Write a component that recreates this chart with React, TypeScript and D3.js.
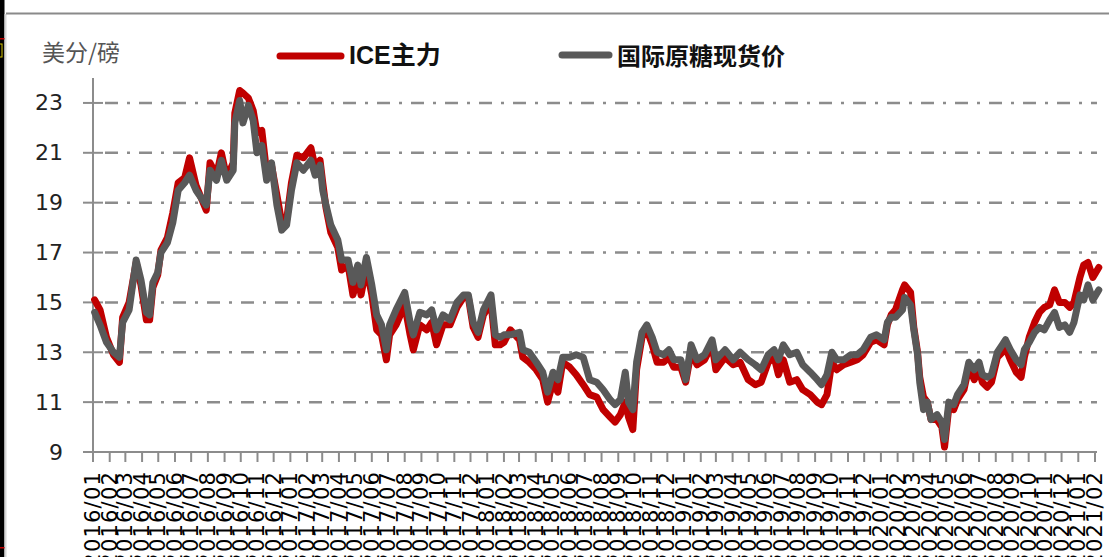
import React from "react";
import * as d3 from "d3";

const dates: string[] = [
  "2016-01-04","2016-01-14","2016-01-26","2016-02-08","2016-02-19","2016-02-25","2016-03-08","2016-03-21","2016-03-30","2016-04-09","2016-04-15","2016-04-21","2016-04-30","2016-05-06","2016-05-18","2016-05-28","2016-06-07","2016-06-19","2016-06-28","2016-07-10","2016-07-29","2016-08-05","2016-08-17","2016-08-26","2016-09-05","2016-09-17","2016-09-20","2016-09-29","2016-10-05","2016-10-15","2016-10-24","2016-10-31","2016-11-09","2016-11-18","2016-11-27","2016-12-07","2016-12-16","2016-12-25",
  "2017-01-03","2017-01-13","2017-01-25","2017-02-08","2017-02-16","2017-02-25","2017-03-02","2017-03-08","2017-03-17","2017-03-30","2017-04-06","2017-04-18","2017-04-27","2017-05-06","2017-05-12","2017-05-22","2017-06-01","2017-06-10","2017-06-19","2017-06-28","2017-07-04","2017-07-16","2017-08-01","2017-08-11","2017-08-17","2017-08-29","2017-09-11","2017-09-20","2017-09-29","2017-10-11","2017-10-24","2017-11-06","2017-11-18","2017-11-27","2017-12-06","2017-12-15","2017-12-25",
  "2018-01-08","2018-01-16","2018-01-25","2018-02-01","2018-02-13","2018-03-02","2018-03-08","2018-03-20","2018-04-02","2018-04-14","2018-04-23","2018-05-03","2018-05-12","2018-05-21","2018-06-03","2018-06-15","2018-06-28","2018-07-10","2018-07-23","2018-08-04","2018-08-17","2018-08-26","2018-09-05","2018-09-14","2018-09-20","2018-09-28","2018-10-05","2018-10-15","2018-10-24","2018-11-03","2018-11-12","2018-11-24","2018-12-04","2018-12-13","2018-12-26",
  "2019-01-04","2019-01-14","2019-01-25","2019-02-08","2019-02-22","2019-03-01","2019-03-18","2019-04-02","2019-04-15","2019-04-30","2019-05-13","2019-05-24","2019-06-06","2019-06-17","2019-06-25","2019-07-04","2019-07-16","2019-07-29","2019-08-09","2019-08-23","2019-09-05","2019-09-13","2019-09-23","2019-10-02","2019-10-11","2019-10-24","2019-11-06","2019-11-18","2019-11-29","2019-12-13","2019-12-24",
  "2020-01-07","2020-01-13","2020-01-20","2020-01-28","2020-02-10","2020-02-14","2020-02-25","2020-03-02","2020-03-09","2020-03-13","2020-03-20","2020-03-27","2020-04-03","2020-04-14","2020-04-23","2020-04-28","2020-05-06","2020-05-15","2020-05-22","2020-06-03","2020-06-12","2020-06-22","2020-07-01","2020-07-07","2020-07-16","2020-07-24","2020-08-04","2020-08-13","2020-08-19","2020-08-28","2020-09-08","2020-09-17","2020-09-23","2020-10-02","2020-10-12","2020-10-21","2020-10-30","2020-11-09","2020-11-18","2020-11-27","2020-12-07","2020-12-16","2020-12-24",
  "2021-01-04","2021-01-11","2021-01-19","2021-01-28","2021-02-08",
];

// ICE主力
const iceValues: number[] = [
  15.1,14.7,13.6,12.9,12.6,14.4,15.0,16.6,15.7,14.3,14.3,15.6,16.1,17.1,17.6,18.6,19.8,20.0,20.8,19.7,18.7,20.6,20.1,21.0,20.0,20.6,22.6,23.5,23.4,23.2,22.7,21.8,21.9,20.2,20.5,19.3,18.2,18.3,
  19.8,20.9,20.8,21.2,20.4,20.7,19.8,18.8,17.8,17.2,16.3,16.5,15.3,16.0,15.3,16.4,15.3,13.9,13.7,12.7,13.7,14.1,14.9,13.7,13.1,14.1,13.9,14.2,13.3,14.1,14.1,14.8,15.2,15.2,14.0,13.6,14.5,
  15.0,13.3,13.3,13.4,13.9,13.5,12.8,12.6,12.3,11.9,11.0,11.8,11.4,12.6,12.4,12.1,11.7,11.3,11.2,10.7,10.4,10.2,10.5,11.0,10.4,9.9,12.3,13.6,13.9,13.3,12.6,12.6,12.8,12.4,12.4,
  11.8,13.0,12.5,12.7,13.3,12.3,12.8,12.5,12.6,11.9,11.7,11.8,12.6,12.8,12.1,12.7,11.8,11.9,11.5,11.3,11.0,10.9,11.3,12.6,12.3,12.5,12.6,12.7,12.9,13.4,13.5,
  13.3,14.1,14.5,14.7,15.5,15.7,15.4,14.0,13.0,12.0,11.2,11.0,10.3,10.3,10.0,9.2,10.8,10.7,11.1,11.5,12.4,11.9,12.3,11.8,11.6,11.8,12.8,13.0,13.2,12.7,12.2,12.0,12.8,13.6,14.2,14.6,14.8,14.9,15.5,15.0,15.0,14.8,15.0,
  16.0,16.5,16.6,16.0,16.4,
];

// 国际原糖现货价
const spotValues: number[] = [
  14.6,14.1,13.4,13.0,12.8,14.2,14.7,16.7,15.9,14.6,14.5,15.8,16.2,17.0,17.4,18.2,19.5,19.8,20.1,19.5,18.9,20.3,19.9,20.7,19.9,20.3,22.2,23.1,22.2,22.9,22.3,21.0,21.3,19.9,20.6,18.9,17.9,18.1,
  19.5,20.6,20.3,20.7,20.1,20.5,19.5,18.9,18.1,17.5,16.7,16.7,15.8,16.5,15.7,16.8,15.7,14.5,14.1,13.1,14.1,14.7,15.4,14.2,13.7,14.6,14.5,14.7,13.9,14.5,14.3,15.0,15.3,15.3,14.2,13.8,14.7,
  15.3,13.7,13.6,13.7,13.7,13.8,13.1,13.0,12.6,12.2,11.4,12.2,11.9,12.8,12.8,12.9,12.8,11.9,11.8,11.5,11.1,10.9,11.1,12.2,11.0,10.7,12.6,13.8,14.1,13.6,13.0,12.9,13.1,12.7,12.7,
  11.9,13.3,12.7,12.9,13.5,12.7,13.1,12.7,13.0,12.7,12.5,12.3,12.9,13.1,12.7,13.3,12.9,13.0,12.5,12.2,11.9,11.7,12.1,13.0,12.7,12.7,12.9,12.9,13.1,13.6,13.7,
  13.5,14.2,14.4,14.4,14.7,15.2,14.9,13.9,12.9,11.8,10.7,11.0,10.3,10.5,10.2,9.5,11.0,10.9,11.3,11.7,12.6,12.3,12.6,12.1,12.0,12.1,13.0,13.3,13.5,13.1,12.7,12.5,13.1,13.4,13.8,14.0,13.9,14.3,14.6,14.0,14.1,13.8,14.2,
  15.3,15.1,15.7,15.1,15.5,
];

const yTicks: number[] = [9, 11, 13, 15, 17, 19, 21, 23];
const unitLabel = "美分/磅";
const legendNames = ["ICE主力", "国际原糖现货价"];

const W = 1109;
const H = 557;
const RED = "#c00000";
const GREY = "#595959";
const AXIS = "#8c8c8c";

export default function App() {
  const parse = d3.timeParse("%Y-%m-%d");
  const pts = dates.map((d) => parse(d) as Date);

  const x = d3.scaleTime()
    .domain([new Date(2016, 0, 1), new Date(2021, 1, 1)])
    .range([93, 1095]);
  const y = d3.scaleLinear().domain([9, 24]).range([452, 78]);

  const months = d3.timeMonth.range(new Date(2016, 0, 1), new Date(2021, 1, 2));
  const fmt = d3.timeFormat("%Y/%m");

  const mkLine = (vals: number[]) =>
    d3.line<number>()
      .x((_, i) => x(pts[i]))
      .y((v) => y(v))(vals) || "";

  const x0 = x.range()[0];
  const x1 = x.range()[1];

  return (
    <svg width={W} height={H} style={{ position: "absolute", left: 0, top: 0, background: "#fff" }}>
      <rect x={0} y={0} width={W} height={H} fill="#fff" />
      {/* screenshot frame bits */}
      <rect x={0} y={0} width={4.5} height={H} fill="#000" />
      <rect x={4.5} y={14} width={2} height={H} fill="#d6d6d6" />
      <line x1={6} x2={W} y1={13.5} y2={13.5} stroke="#8a8a8a" strokeWidth={2} />
      <rect x={0} y={38} width={4.5} height={1.5} fill="#c00000" />
      <rect x={-3} y={44} width={5} height={13} fill="none" stroke="#d4c400" strokeWidth={1} />
      <rect x={0} y={547} width={4.5} height={1.5} fill="#c00000" />

      {/* unit */}
      <text x={42} y={51} fontFamily="'Noto Sans CJK SC', sans-serif" fontSize={23}
        fill="#555" dominantBaseline="central">{unitLabel}</text>

      {/* legend */}
      <line x1={280} x2={341} y1={56} y2={56} stroke={RED} strokeWidth={7} strokeLinecap="round" />
      <text x={349} y={55} fontFamily="'Liberation Sans', 'Noto Sans CJK SC', sans-serif" fontWeight="bold"
        fontSize={25} fill="#111" dominantBaseline="central">{legendNames[0]}</text>
      <line x1={562} x2={609} y1={55} y2={55} stroke={GREY} strokeWidth={7} strokeLinecap="round" />
      <text x={617} y={54} fontFamily="'Noto Sans CJK SC', sans-serif" fontWeight="bold"
        fontSize={24} fill="#111" dominantBaseline="central">{legendNames[1]}</text>

      {/* grid */}
      {yTicks.filter((t) => t !== 9).map((t) => (
        <line key={"g" + t} x1={x0 + 12} x2={x1 + 2} y1={y(t)} y2={y(t)}
          stroke={AXIS} strokeWidth={2.5} strokeDasharray="13 9 3 9" />
      ))}

      {/* y axis */}
      <line x1={x0} x2={x0} y1={y(24)} y2={y(9)} stroke={AXIS} strokeWidth={2} />
      {yTicks.map((t) => (
        <g key={"y" + t}>
          <line x1={83} x2={103} y1={y(t)} y2={y(t)} stroke={AXIS} strokeWidth={2} />
          <text x={63} y={y(t)} textAnchor="end" dominantBaseline="central"
            fontFamily="'DejaVu Sans', sans-serif" fontSize={22} fill="#222">{t}</text>
        </g>
      ))}

      {/* x axis */}
      <line x1={83} x2={x1 + 2} y1={y(9)} y2={y(9)} stroke={AXIS} strokeWidth={2} />
      {months.map((m, i) => (
        <g key={"x" + i}>
          <line x1={x(m)} x2={x(m)} y1={y(9)} y2={y(9) + 10} stroke={AXIS} strokeWidth={2} />
          <text transform={`translate(${x(m) + 7},471) rotate(-90)`} textAnchor="end"
            fontFamily="'DejaVu Sans', sans-serif" fontSize={21} letterSpacing={1.2}
            fill="#000">{fmt(m)}</text>
        </g>
      ))}

      {/* series */}
      <path d={mkLine(iceValues)} fill="none" stroke={RED} strokeWidth={7} strokeLinejoin="round" strokeLinecap="round" />
      <path d={mkLine(spotValues)} fill="none" stroke={GREY} strokeWidth={7} strokeLinejoin="round" strokeLinecap="round" />
    </svg>
  );
}
